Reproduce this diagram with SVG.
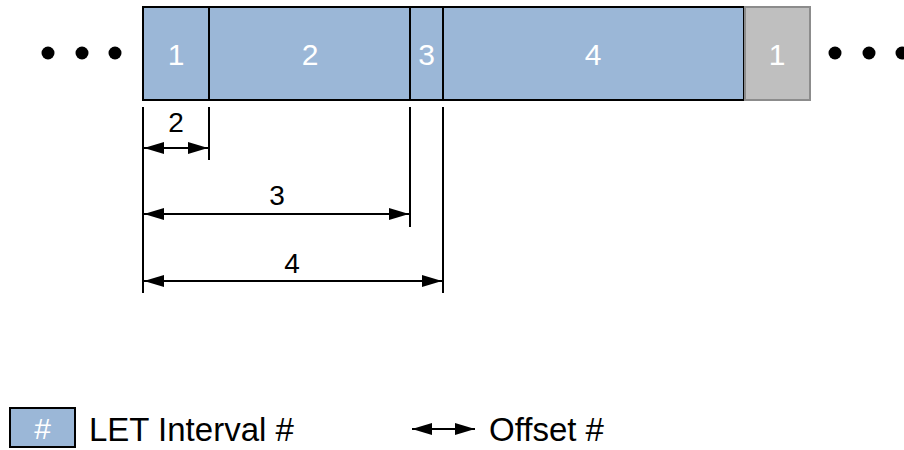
<svg xmlns="http://www.w3.org/2000/svg" width="904" height="450" viewBox="0 0 904 450">
<defs>
<marker id="ah" markerWidth="20" markerHeight="12" refX="20" refY="6" orient="auto-start-reverse" markerUnits="userSpaceOnUse">
<path d="M0,0 L20,6 L0,12 Z" fill="#000"/>
</marker>
<style>
.lbl{font-family:"Liberation Sans",Arial,sans-serif;font-size:28px;text-anchor:middle}
.big{font-size:30px}
.w{fill:#fff}
.k{fill:#000}
.blue{fill:#9bb7d7;stroke:#000;stroke-width:2}
.gray{fill:#bfbfbf;stroke:#8c8c8c;stroke-width:2}
.tick{stroke:#000;stroke-width:2}
.dim{stroke:#000;stroke-width:2;marker-start:url(#ah);marker-end:url(#ah)}
.leg{font-family:"Liberation Sans",Arial,sans-serif;font-size:33px;fill:#000}
</style>
</defs>
<g id="dots-left" fill="#000">
<circle cx="48" cy="53" r="6.5"/><circle cx="82" cy="53" r="6.5"/><circle cx="115" cy="53" r="6.5"/>
</g>
<g id="dots-right" fill="#000">
<circle cx="835" cy="53" r="6.5"/><circle cx="869" cy="53" r="6.5"/><circle cx="902" cy="53" r="6.5"/>
</g>
<g id="interval-1"><rect class="blue" x="143" y="7" width="66" height="93"/><text class="lbl big w" x="176" y="65">1</text></g>
<g id="interval-2"><rect class="blue" x="209" y="7" width="201" height="93"/><text class="lbl big w" x="310" y="65">2</text></g>
<g id="interval-3"><rect class="blue" x="410" y="7" width="33" height="93"/><text class="lbl big w" x="426.5" y="65">3</text></g>
<g id="interval-4"><rect class="blue" x="443" y="7" width="301" height="93"/><text class="lbl big w" x="593" y="65">4</text></g>
<g id="interval-1b"><rect class="gray" x="745" y="7" width="65" height="93"/><text class="lbl big w" x="777" y="65">1</text></g>
<g id="connectors">
<line class="tick" x1="143" y1="107" x2="143" y2="293"/>
<line class="tick" x1="209" y1="107" x2="209" y2="160"/>
<line class="tick" x1="410" y1="107" x2="410" y2="227"/>
<line class="tick" x1="443" y1="107" x2="443" y2="293"/>
<line class="dim" x1="144" y1="148" x2="208" y2="148"/>
<line class="dim" x1="144" y1="214" x2="409" y2="214"/>
<line class="dim" x1="144" y1="281" x2="442" y2="281"/>
</g>
<g id="offset-labels">
<text class="lbl k" x="176" y="132">2</text>
<text class="lbl k" x="277" y="205">3</text>
<text class="lbl k" x="292" y="273">4</text>
</g>
<g id="legend-interval">
<rect class="blue" x="10" y="408" width="65" height="39"/>
<text class="lbl big w" x="42.5" y="439">#</text>
<text class="leg" x="89" y="441">LET Interval #</text>
</g>
<g id="legend-offset">
<line class="dim" x1="412" y1="429" x2="475" y2="429"/>
<text class="leg" x="489" y="441">Offset #</text>
</g>
</svg>
